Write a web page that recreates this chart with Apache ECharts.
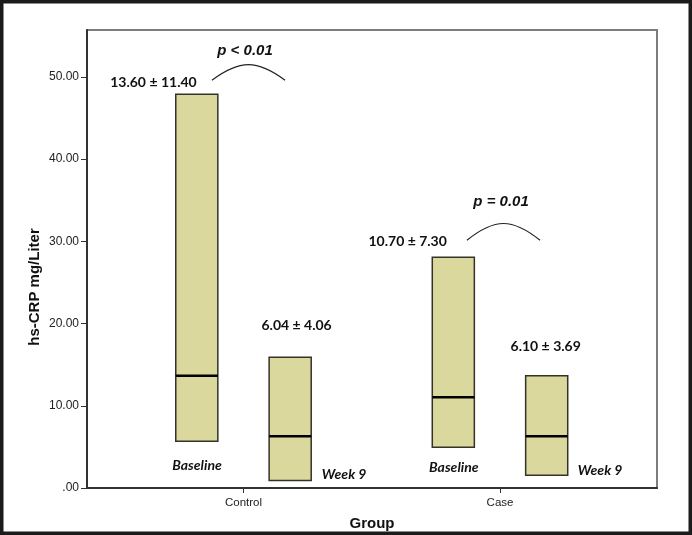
<!DOCTYPE html>
<html><head><meta charset="utf-8">
<script src="https://cdn.jsdelivr.net/npm/echarts@6/dist/echarts.min.js"></script>
<style>html,body{margin:0;padding:0;background:#fff}#c{width:692px;height:535px}</style>
</head><body><div id="c"></div>
<script>
// ---- data ----
const groups = ['Control', 'Case'];
const timepoints = ['Baseline', 'Week 9'];
const controlLow = [5.7, 0.9];
const controlHigh = [47.9, 15.9];
const controlMedian = [13.65, 6.3];
const caseLow = [4.95, 1.55];
const caseHigh = [28.05, 13.65];
const caseMedian = [11.05, 6.3];
const meanSdLabels = ['13.60 ± 11.40', '6.04 ± 4.06', '10.70 ± 7.30', '6.10 ± 3.69'];
const pLabels = ['p < 0.01', 'p = 0.01'];
const yTicks = [0, 10, 20, 30, 40, 50];
const groupTicks = [1, 2];

// ---- layout (data-space anchors for annotations) ----
const X_MIN = 0.39, X_MAX = 2.612, Y_MAX = 55.7;
const OFFSET = 0.182, BOX_W = 0.164;
const meanSdAnchors = [[0.649, 49.27], [1.207, 19.71], [1.640, 30.01], [2.178, 17.15]];
const timeAnchors = [[0.819, 2.76], [1.392, 1.63], [1.820, 2.55], [2.390, 2.15]];
const pAnchors = [[1.006, 53.2], [2.004, 34.79]];
const arcAnchors = [[0.877, 1.162, 49.6, 51.5], [1.871, 2.156, 30.13, 32.17]];

const boxData = [];
groups.forEach((g, gi) => {
  const low = gi === 0 ? controlLow : caseLow;
  const high = gi === 0 ? controlHigh : caseHigh;
  const med = gi === 0 ? controlMedian : caseMedian;
  timepoints.forEach((t, ti) => {
    boxData.push([groupTicks[gi] + (ti === 0 ? -OFFSET : OFFSET), low[ti], high[ti], med[ti]]);
  });
});
const timeData = timeAnchors.map((a, i) => [a[0], a[1], i]);
const meanData = meanSdAnchors.map((a, i) => [a[0], a[1], i]);
const pData = pAnchors.map((a, i) => [a[0], a[1], i]);

const chart = echarts.init(document.getElementById('c'), null, {renderer: 'canvas'});

function textSeries(data, textFn, font) {
  return {
    type: 'custom', data: data, silent: true, z: 5,
    encode: {x: 0, y: 1},
    renderItem: function (params, api) {
      const p = api.coord([api.value(0), api.value(1)]);
      return {
        type: 'text', x: p[0], y: p[1],
        style: Object.assign({text: textFn(api.value(2)), align: 'center', verticalAlign: 'middle', fill: '#111'}, font)
      };
    }
  };
}

chart.setOption({
  animation: false,
  backgroundColor: '#fff',
  grid: {left: 87, right: 35, top: 30, bottom: 47, show: true, borderColor: '#7d7d7d', borderWidth: 2,
         backgroundColor: 'transparent', containLabel: false, outerBoundsMode: 'none'},
  xAxis: {
    type: 'value', min: X_MIN, max: X_MAX,
    name: 'Group', nameLocation: 'middle', nameGap: 28,
    nameTextStyle: {fontFamily: 'Liberation Sans', fontWeight: 'bold', fontSize: 15, color: '#111'},
    axisLine: {show: true, onZero: false, lineStyle: {color: '#333', width: 2}},
    axisTick: {show: true, length: 5, customValues: groupTicks, lineStyle: {color: '#333'}},
    axisLabel: {customValues: groupTicks, formatter: v => groups[Math.round(v) - 1], fontFamily: 'Liberation Sans', fontSize: 11.5, color: '#222', margin: 9},
    splitLine: {show: false}
  },
  yAxis: {
    type: 'value', min: 0, max: Y_MAX,
    axisLine: {show: true, onZero: false, lineStyle: {color: '#333', width: 2}},
    axisTick: {show: true, length: 6, customValues: yTicks, lineStyle: {color: '#333'}},
    axisLabel: {customValues: yTicks, formatter: v => v === 0 ? '.00' : v.toFixed(2), fontFamily: 'Liberation Sans', fontSize: 12, color: '#222', margin: 8},
    splitLine: {show: false}
  },
  graphic: [{
    type: 'rect', shape: {x: 1.5, y: 1.5, width: 689, height: 532}, silent: true, z: 100,
    style: {fill: 'none', stroke: '#1b1b1b', lineWidth: 4}
  }, {
    type: 'text', x: 35, y: 287, rotation: Math.PI / 2, silent: true,
    style: {text: 'hs-CRP mg/Liter', align: 'center', verticalAlign: 'middle',
            fontFamily: 'Liberation Sans', fontWeight: 'bold', fontSize: 15, fill: '#111'}
  }],
  series: [
    {
      type: 'custom', data: boxData, silent: true, z: 3,
      encode: {x: 0, y: [1, 2, 3]},
      renderItem: function (params, api) {
        const x = api.value(0);
        const pTop = api.coord([x, api.value(2)]);
        const pBot = api.coord([x, api.value(1)]);
        const pMd = api.coord([x, api.value(3)]);
        const w = api.size([BOX_W, 0])[0];
        return {type: 'group', children: [
          {type: 'rect', shape: {x: pTop[0] - w / 2, y: pTop[1], width: w, height: pBot[1] - pTop[1]},
           style: {fill: '#dad89c', stroke: '#33332a', lineWidth: 1.5}},
          {type: 'line', shape: {x1: pTop[0] - w / 2, y1: pMd[1], x2: pTop[0] + w / 2, y2: pMd[1]},
           style: {stroke: '#000', lineWidth: 2.5}}
        ]};
      }
    },
    {
      type: 'custom', data: arcAnchors, silent: true, z: 4,
      encode: {x: [0, 1], y: [2, 3]},
      renderItem: function (params, api) {
        const a = api.coord([api.value(0), api.value(2)]);
        const b = api.coord([api.value(1), api.value(2)]);
        const pk = api.coord([(api.value(0) + api.value(1)) / 2, api.value(3)]);
        const cy = (pk[1] - 0.125 * (a[1] + b[1])) / 0.75;
        const w = b[0] - a[0];
        return {type: 'bezierCurve',
          shape: {x1: a[0], y1: a[1], x2: b[0], y2: b[1], cpx1: a[0] + w * 0.38, cpy1: cy, cpx2: a[0] + w * 0.62, cpy2: cy},
          style: {stroke: '#222', lineWidth: 1.2, fill: 'none'}};
      }
    },
    textSeries(meanData, i => meanSdLabels[i], {fontFamily: 'Lato', fontWeight: 'bold', fontSize: 14}),
    textSeries(timeData, i => timepoints[i % 2], {fontFamily: 'Lato', fontWeight: 'bold', fontStyle: 'italic', fontSize: 14}),
    textSeries(pData, i => pLabels[i], {fontFamily: 'Liberation Sans', fontWeight: 'bold', fontStyle: 'italic', fontSize: 15})
  ]
});
</script></body></html>
